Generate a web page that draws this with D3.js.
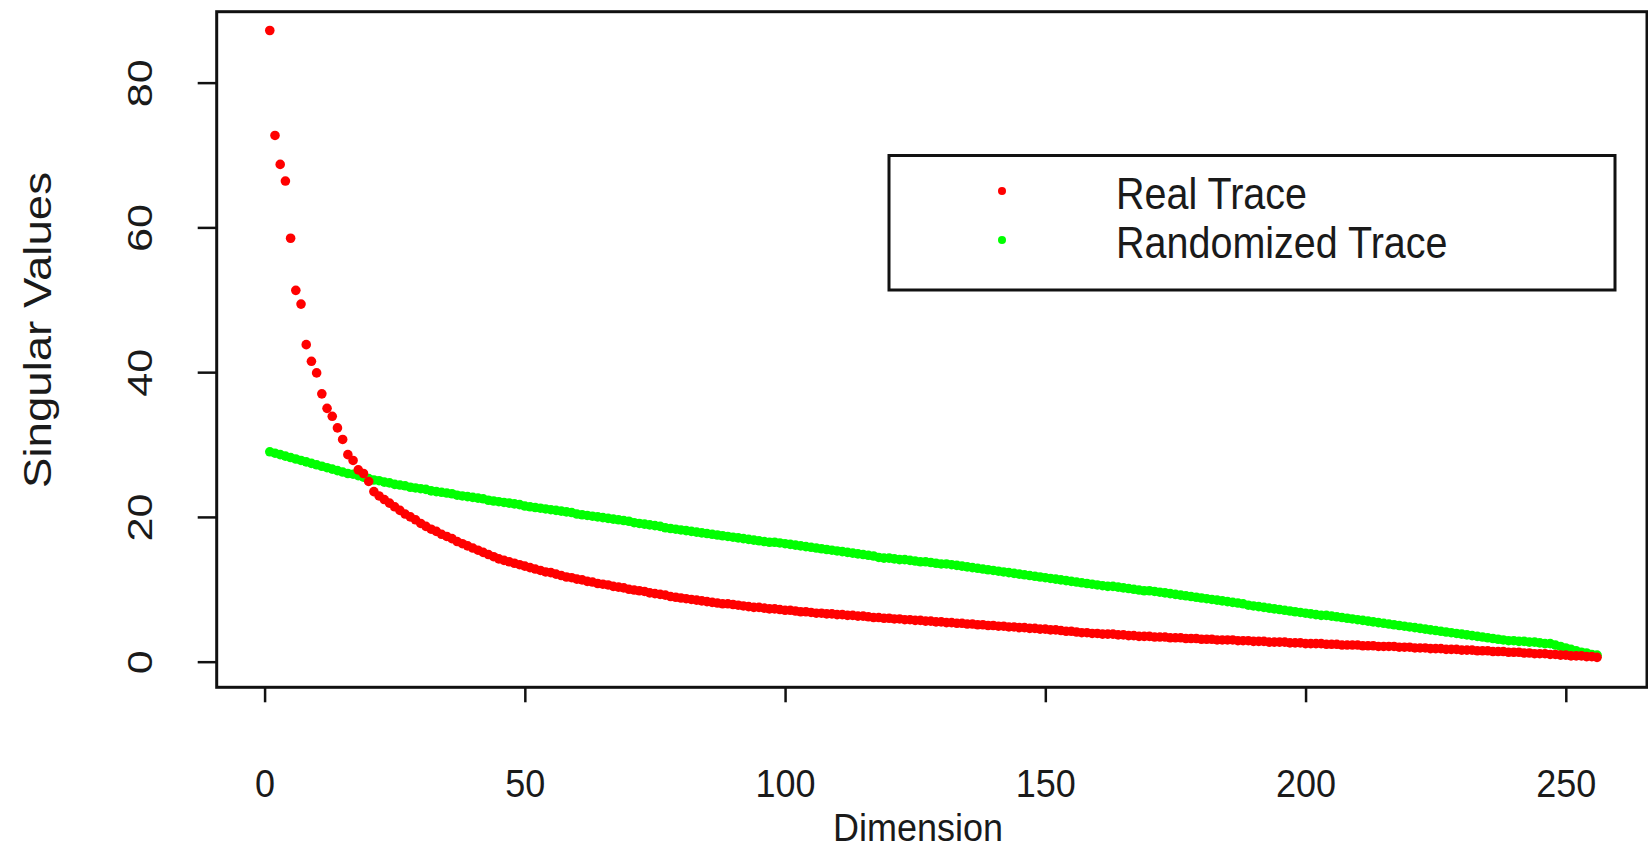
<!DOCTYPE html>
<html>
<head>
<meta charset="utf-8">
<script src="https://cdn.jsdelivr.net/npm/d3@7"></script>
<style>
  body { margin: 0; background: #fff; }
  text { font-family: "Liberation Sans", Arial, sans-serif; fill: #1a1a1a; }
</style>
</head>
<body>
<div id="vis"></div>
<script>
// singular values per dimension (index = dimension 1..256)
const realTrace = [
    87.2, 72.7, 68.7, 66.4, 58.5, 51.3, 49.4, 43.8, 41.5, 39.9, 37.0, 35.0, 33.9, 32.3, 30.7, 28.6, 27.8, 26.5, 26.0, 24.9, 23.5, 22.9,
    22.4, 21.9, 21.4, 20.9, 20.4, 20.0, 19.6, 19.1, 18.7, 18.3,
    18.0, 17.6, 17.3, 17.0, 16.6, 16.3, 16.0, 15.7, 15.4, 15.1, 14.8, 14.5,
    14.2, 14.0, 13.8, 13.6, 13.4, 13.2, 13.0, 12.8, 12.6, 12.4, 12.3, 12.1, 11.9, 11.7,
    11.6, 11.4, 11.3, 11.1, 11.0, 10.8, 10.7, 10.6, 10.4, 10.3, 10.2, 10.0, 9.9, 9.8, 9.7, 9.5, 9.4, 9.3, 9.2, 9.0, 8.9, 8.8,
    8.7, 8.6, 8.5, 8.4, 8.3, 8.2, 8.1, 8.0, 8.0, 7.9, 7.8, 7.7, 7.6,
    7.5, 7.5, 7.4, 7.3, 7.3, 7.2, 7.1, 7.1, 7.0, 6.9, 6.9, 6.8, 6.7,
    6.7, 6.6, 6.6, 6.5, 6.5, 6.4, 6.4, 6.3, 6.3, 6.2, 6.1, 6.1, 6.0,
    6.0, 5.9, 5.9, 5.8, 5.8, 5.7, 5.7, 5.6, 5.6, 5.5, 5.5, 5.4, 5.4,
    5.3, 5.3, 5.2, 5.2, 5.1, 5.1, 5.0, 5.0, 4.9, 4.9, 4.8, 4.8,
    4.7, 4.7, 4.6, 4.6, 4.5, 4.5, 4.4, 4.4, 4.3, 4.2, 4.2, 4.1, 4.0,
    4.0, 3.9, 3.9, 3.8, 3.8, 3.8, 3.7, 3.7, 3.6, 3.6, 3.5, 3.5, 3.5, 3.4, 3.4, 3.4,
    3.3, 3.3, 3.3, 3.2, 3.2, 3.2, 3.1, 3.1, 3.1, 3.0, 3.0, 3.0, 3.0, 2.9, 2.9, 2.9,
    2.8, 2.8, 2.8, 2.7, 2.7, 2.7, 2.7, 2.6, 2.6, 2.6, 2.5, 2.5, 2.5, 2.5, 2.4, 2.4,
    2.4, 2.3, 2.3, 2.3, 2.3, 2.2, 2.2, 2.2, 2.1, 2.1, 2.1, 2.1, 2.0, 2.0, 2.0, 1.9,
    1.9, 1.9, 1.8, 1.8, 1.8, 1.7, 1.7, 1.7, 1.6, 1.6, 1.6, 1.5, 1.5, 1.5, 1.4, 1.4,
    1.4, 1.3, 1.3, 1.3, 1.2, 1.2, 1.1, 1.1, 1.1, 1.0, 1.0, 0.9, 0.9, 0.8, 0.8, 0.8, 0.7, 0.7, 0.6
];

const randomizedTrace = [
    29.0, 28.8, 28.6, 28.4, 28.2, 28.0, 27.8, 27.6, 27.4, 27.2, 27.0, 26.8, 26.6,
    26.4, 26.2, 26.0, 25.9, 25.7, 25.5, 25.3, 25.1, 25.0, 24.8, 24.7, 24.5, 24.4,
    24.3, 24.1, 24.0, 23.9, 23.8, 23.6, 23.5, 23.4, 23.3, 23.2, 23.0, 22.9, 22.8,
    22.7, 22.6, 22.5, 22.3, 22.2, 22.1, 22.0, 21.9, 21.8, 21.7,
    21.5, 21.4, 21.3, 21.2, 21.1, 21.0, 20.9, 20.8, 20.7, 20.6,
    20.4, 20.3, 20.2, 20.1, 20.0, 19.9, 19.8, 19.7, 19.6, 19.5,
    19.4, 19.2, 19.1, 19.0, 18.9, 18.8, 18.7, 18.5, 18.4, 18.3,
    18.2, 18.1, 18.0, 17.9, 17.8, 17.7, 17.6, 17.5, 17.4, 17.3,
    17.2, 17.1, 17.0, 16.9,
    16.8, 16.7, 16.6, 16.5, 16.5, 16.4, 16.3, 16.2, 16.1, 16.0, 15.9, 15.8, 15.7,
    15.6, 15.5, 15.4, 15.3, 15.2, 15.1, 15.0, 14.9, 14.8, 14.7, 14.6, 14.4, 14.3,
    14.3, 14.2, 14.1, 14.1, 14.0, 13.9, 13.8, 13.8, 13.7, 13.6, 13.5, 13.5, 13.4,
    13.3, 13.2, 13.1, 13.0, 12.9, 12.8, 12.7, 12.6, 12.5, 12.4, 12.3, 12.2,
    12.1, 12.0, 11.9, 11.8, 11.7, 11.6, 11.5, 11.4, 11.3, 11.2, 11.1, 11.0, 10.9,
    10.8, 10.7, 10.6, 10.5, 10.4, 10.4, 10.3, 10.2, 10.1, 10.0, 9.9, 9.8, 9.8, 9.7, 9.6, 9.5,
    9.4, 9.3, 9.2, 9.1, 9.0, 8.9, 8.8, 8.7, 8.6, 8.5, 8.4, 8.3, 8.2, 8.1, 8.0, 7.8,
    7.7, 7.6, 7.5, 7.4, 7.3, 7.2, 7.1, 7.0, 6.9, 6.8, 6.7, 6.6, 6.5, 6.4, 6.4, 6.3,
    6.2, 6.1, 6.0, 5.9, 5.8, 5.7, 5.6, 5.5, 5.4, 5.3, 5.2, 5.1, 5.0, 4.9, 4.8, 4.7,
    4.6, 4.5, 4.4, 4.3, 4.2, 4.1, 4.0, 3.9, 3.8, 3.7, 3.6, 3.5, 3.4, 3.3, 3.2, 3.1,
    3.0, 2.9, 2.9, 2.8, 2.8, 2.7, 2.7, 2.6, 2.5, 2.5, 2.3, 2.1, 1.9, 1.7, 1.5, 1.3, 1.2, 1.0, 0.9
];

const xTicks = [0, 50, 100, 150, 200, 250];
const yTicks = [0, 20, 40, 60, 80];
const seriesNames = ["Real Trace", "Randomized Trace"];
const seriesColors = ["#ff0000", "#00ff00"];

function createScatter() {
    const w = 1648;
    const h = 853;
    const left = 216.7, right = 1647, top = 11.7, bottom = 687.3;

    const svg = d3.select("#vis")
        .append("svg")
        .attr("width", w)
        .attr("height", h);

    /* SCALES */
    const xScale = d3.scaleLinear().domain([-9.2, 265.6]).range([left, right]);
    const yScale = d3.scaleLinear().domain([-3.54, 89.8]).range([bottom, top]);

    /* POINTS - randomized first, real drawn on top */
    const series = [
        { name: seriesNames[1], color: seriesColors[1], values: randomizedTrace },
        { name: seriesNames[0], color: seriesColors[0], values: realTrace }
    ];

    series.forEach(function(s) {
        svg.append("g")
            .selectAll("circle")
            .data(s.values)
            .enter()
            .append("circle")
            .attr("cx", function(d, i) { return xScale(i + 1); })
            .attr("cy", function(d) { return yScale(d); })
            .attr("r", 4.8)
            .style("fill", s.color);
    });

    /* AXES */
    const xAxis = d3.axisBottom(xScale).tickValues(xTicks).tickSize(15).tickFormat(d3.format("d"));
    const yAxis = d3.axisLeft(yScale).tickValues(yTicks).tickSize(19).tickFormat(d3.format("d"));

    const gx = svg.append("g")
        .attr("transform", "translate(0," + bottom + ")")
        .call(xAxis);
    gx.select(".domain").remove();
    gx.selectAll("line").style("stroke", "#111").style("stroke-width", "2.5px");
    gx.selectAll("text")
        .attr("y", 0)
        .attr("dy", 0)
        .attr("transform", "translate(0,110) scale(1,1.1)")
        .style("font-size", "36px")
        .style("fill", "#1a1a1a");

    const gy = svg.append("g")
        .attr("transform", "translate(" + left + ",0)")
        .call(yAxis);
    gy.select(".domain").remove();
    gy.selectAll("line").style("stroke", "#111").style("stroke-width", "2.5px");
    gy.selectAll("text")
        .attr("x", 0)
        .attr("y", 0)
        .attr("dy", 0)
        .attr("transform", "translate(-65,0) rotate(-90) scale(1.2,1)")
        .style("text-anchor", "middle")
        .style("font-size", "36px")
        .style("fill", "#1a1a1a");

    /* BOX */
    svg.append("rect")
        .attr("x", left)
        .attr("y", top)
        .attr("width", right - left)
        .attr("height", bottom - top)
        .style("fill", "none")
        .style("stroke", "#111")
        .style("stroke-width", "3px");

    /* AXIS TITLES */
    svg.append("text")
        .attr("transform", "translate(918,841) scale(1,1.1)")
        .style("text-anchor", "middle")
        .style("font-size", "36px")
        .text("Dimension");

    svg.append("text")
        .attr("transform", "translate(51,330) rotate(-90) scale(1.2,1)")
        .style("text-anchor", "middle")
        .style("font-size", "38px")
        .text("Singular Values");

    /* LEGEND */
    const legend = svg.append("g");
    legend.append("rect")
        .attr("x", 889)
        .attr("y", 155.5)
        .attr("width", 726)
        .attr("height", 134.5)
        .style("fill", "#fff")
        .style("stroke", "#111")
        .style("stroke-width", "3px");

    const items = legend.selectAll(".item")
        .data(seriesNames)
        .enter()
        .append("g")
        .attr("class", "item")
        .attr("transform", function(d, i) { return "translate(0," + (i * 49) + ")"; });

    items.append("circle")
        .attr("cx", 1002)
        .attr("cy", 191)
        .attr("r", 4)
        .style("fill", function(d, i) { return seriesColors[i]; });

    items.append("text")
        .attr("transform", "translate(1116,209) scale(1,1.1)")
        .style("font-size", "39.5px")
        .text(function(d) { return d; });
}

function main() {
    createScatter();
}

main();
</script>
</body>
</html>
